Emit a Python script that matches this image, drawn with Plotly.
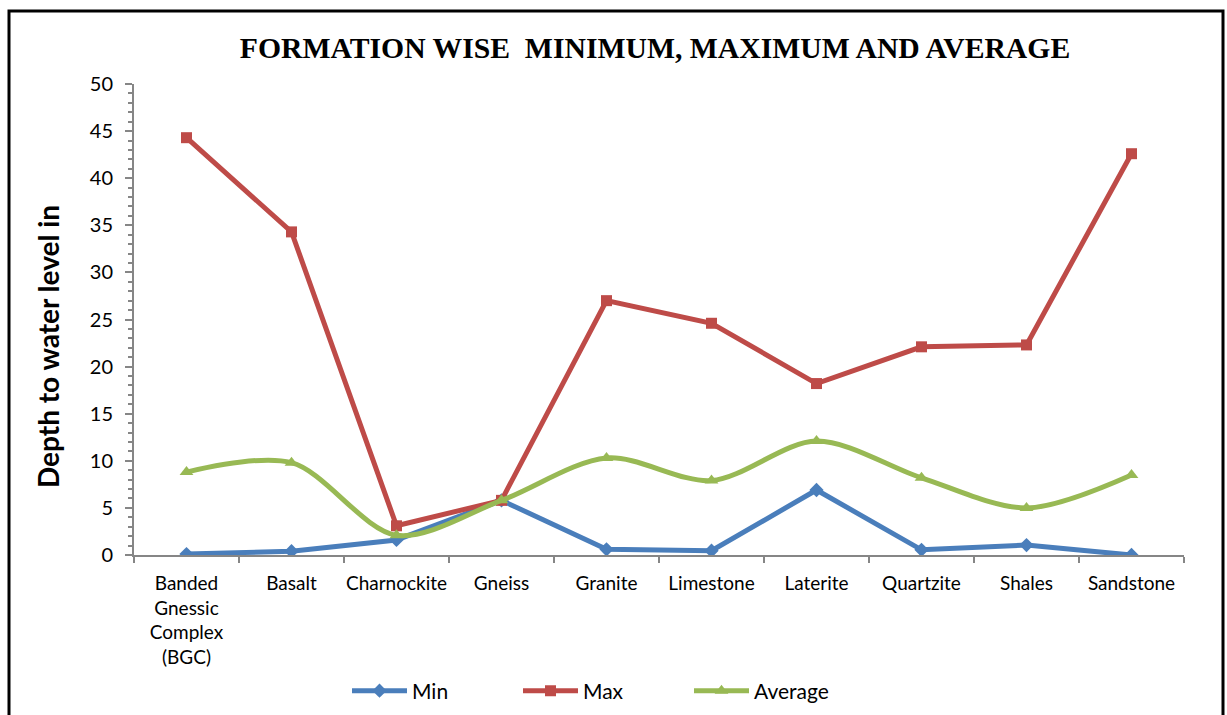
import plotly.graph_objects as go

categories = ["Banded<br>Gnessic<br>Complex<br>(BGC)", "Basalt", "Charnockite", "Gneiss", "Granite",
              "Limestone", "Laterite", "Quartzite", "Shales", "Sandstone"]
min_vals = [0.1, 0.4, 1.6, 5.8, 0.6, 0.45, 6.9, 0.55, 1.05, 0.0]
max_vals = [44.3, 34.3, 3.1, 5.8, 27.0, 24.6, 18.2, 22.1, 22.3, 42.6]
avg_vals = [8.8, 9.8, 2.1, 5.8, 10.3, 7.9, 12.1, 8.2, 5.0, 8.5]
y_ticks = [0, 5, 10, 15, 20, 25, 30, 35, 40, 45, 50]

fig = go.Figure()
fig.add_trace(go.Scatter(x=categories, y=min_vals, name="Min", mode="lines+markers",
                         line=dict(color="#4A7EBB", width=5),
                         marker=dict(symbol="diamond", size=11, color="#4A7EBB")))
fig.add_trace(go.Scatter(x=categories, y=max_vals, name="Max", mode="lines+markers",
                         line=dict(color="#BE4B48", width=5),
                         marker=dict(symbol="square", size=11, color="#BE4B48")))
fig.add_trace(go.Scatter(x=categories, y=avg_vals, name="Average", mode="lines+markers",
                         line=dict(color="#98B954", width=5, shape="spline", smoothing=0.9),
                         marker=dict(symbol="triangle-up", size=12, color="#98B954")))

L, R, T, B = 134, 1184, 84, 555
W, H = 1227, 715
pw, ph = R - L, B - T

fig.update_layout(
    width=W, height=H,
    margin=dict(l=L, r=W - R, t=T, b=H - B, autoexpand=False),
    paper_bgcolor="white", plot_bgcolor="white",
    title=dict(text="<b>FORMATION WISE  MINIMUM, MAXIMUM AND AVERAGE</b>",
               x=655 / W, xanchor="center", y=1 - 48 / H, yanchor="middle",
               font=dict(family="Liberation Serif", size=29.7, color="black")),
    font=dict(family="Lato", color="black"),
    showlegend=True,
    legend=dict(orientation="h", x=(347 - L) / pw, xanchor="left", y=(B - 691) / ph, yanchor="middle",
                font=dict(size=21, family="Lato"), tracegroupgap=0, itemwidth=55,
                entrywidth=101, entrywidthmode="pixels", bgcolor="rgba(0,0,0,0)"),
    shapes=[dict(type="rect", xref="paper", yref="paper",
                 x0=(9 - L) / pw, x1=(1223 - L) / pw, y0=(B - 760) / ph, y1=(B - 11) / ph,
                 line=dict(color="black", width=3), fillcolor="rgba(0,0,0,0)", layer="below")],
    annotations=[dict(text="<b>Depth to water level in</b>", textangle=-90, showarrow=False,
                      xref="paper", yref="paper", x=(48 - L) / pw, y=(B - 347) / ph,
                      xanchor="center", yanchor="middle",
                      font=dict(size=28, family="Lato", color="black"))],
)
fig.update_xaxes(showgrid=False, showline=True, linecolor="#868686", linewidth=2,
                 ticks="outside", tickson="boundaries", ticklen=6, tickcolor="#868686", tickwidth=1.5,
                 tickfont=dict(size=19, family="Lato"), tickangle=0, automargin=False,
                 ticklabelstandoff=10, range=[-0.5, 9.5], zeroline=False)
fig.update_yaxes(showgrid=False, showline=True, linecolor="#868686", linewidth=2,
                 range=[0, 50], tickvals=y_ticks, ticks="outside", ticklen=7, tickcolor="#868686",
                 tickwidth=1.5, tickfont=dict(size=20, family="Lato"), zeroline=False, automargin=False,
                 ticklabelstandoff=8,
                 minor=dict(ticks="outside", dtick=1, ticklen=4, tickcolor="#868686", tickwidth=1.5))

fig.write_html("out.html", config={"displayModeBar": False},
               post_script="document.body.style.margin='0';document.documentElement.style.overflow='hidden';")
